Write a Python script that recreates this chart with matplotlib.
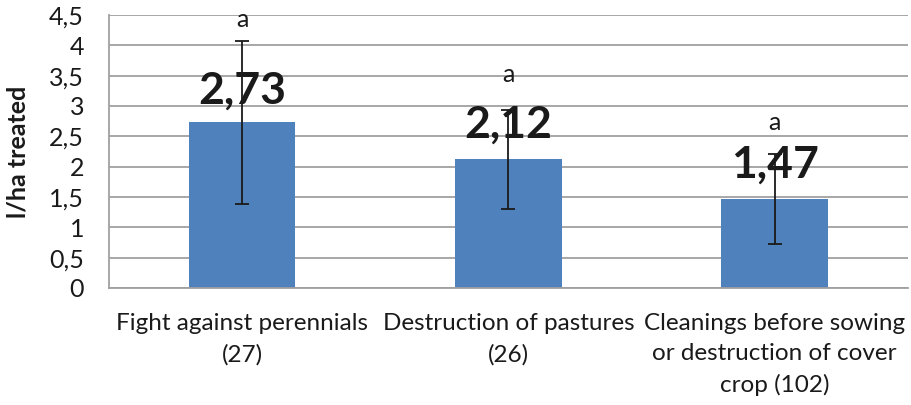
import matplotlib.pyplot as plt
import numpy as np

categories = ["Fight against perennials\n(27)",
              "Destruction of pastures\n(26)",
              "Cleanings before sowing\nor destruction of cover\ncrop (102)"]
values = [2.73, 2.12, 1.47]
errors = [1.34, 0.82, 0.74]
value_labels = ["2,73", "2,12", "1,47"]
letters = ["a", "a", "a"]
letter_y = [4.42, 3.52, 2.73]
value_label_y = [3.26, 2.69, 2.03]

plt.rcParams['font.family'] = ['Lato', 'DejaVu Sans']

fig = plt.figure(figsize=(9.12, 4.05), dpi=100)
ax = fig.add_axes([0.1195, 0.289, 0.876, 0.674])

x = np.arange(len(values))
ax.bar(x, values, width=0.4, color="#4F81BD", zorder=2)
ax.errorbar(x, values, yerr=errors, fmt="none", ecolor="#1a1a1a",
            elinewidth=1.3, capsize=5, capthick=1.3, zorder=3)

for i in range(len(values)):
    ax.text(x[i], value_label_y[i], value_labels[i], ha="center", va="center",
            fontsize=32, fontweight="bold", color="#1a1a1a", zorder=4)
    ax.text(x[i], letter_y[i], letters[i], ha="center", va="center",
            fontsize=18, color="#1a1a1a", zorder=4)

ax.set_xlim(-0.5, 2.5)
ax.set_ylim(0, 4.5)
yt = np.arange(0, 4.51, 0.5)
ax.set_yticks(yt)
ax.set_yticklabels([("%g" % v).replace(".", ",") for v in yt], fontsize=18)
ax.set_xticks(x)
ax.set_xticklabels(categories, fontsize=17.5, linespacing=1.55)
ax.tick_params(axis="both", length=0, colors="#1a1a1a")
ax.tick_params(axis="y", pad=18)
ax.tick_params(axis="x", pad=18)

ax.yaxis.grid(True, color="#A0A0A0", linewidth=1.3, zorder=0)
ax.set_axisbelow(True)
for s in ["top", "right"]:
    ax.spines[s].set_visible(False)
for s in ["left", "bottom"]:
    ax.spines[s].set_color("#A0A0A0")
    ax.spines[s].set_linewidth(1.3)

ax.set_ylabel("l/ha treated", fontsize=18, fontweight="bold", color="#1a1a1a")
ax.yaxis.set_label_coords(-0.1, 0.5)

fig.savefig("out.png", dpi=100)
